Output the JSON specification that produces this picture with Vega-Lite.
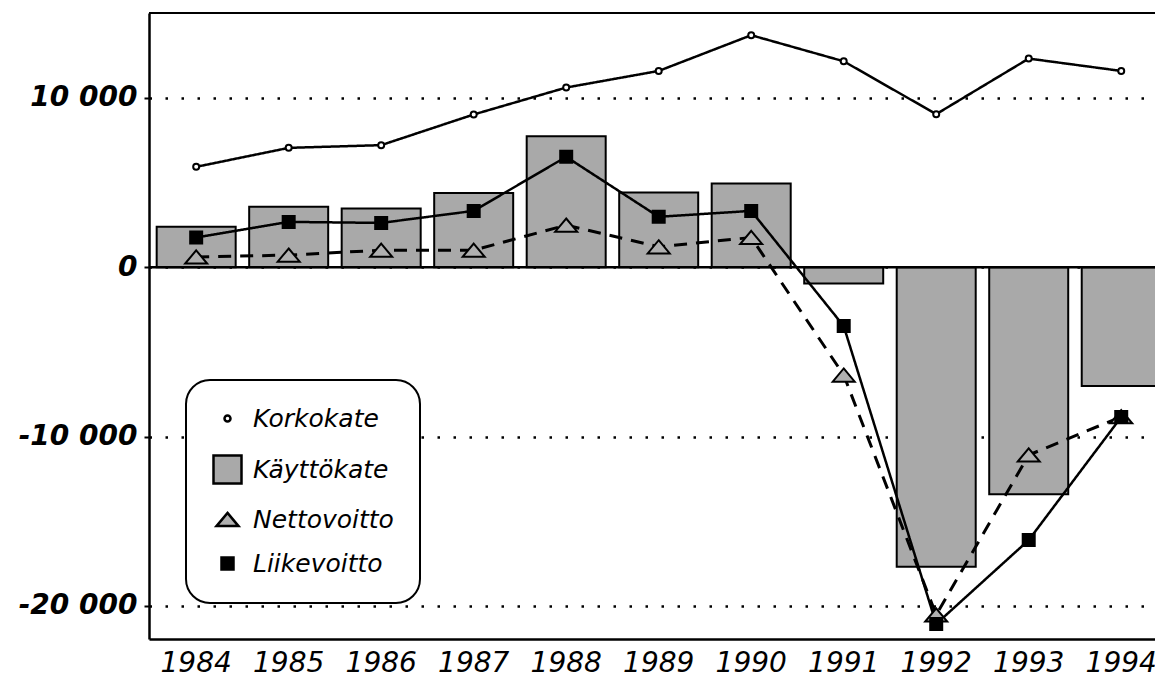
{
  "$schema": "https://vega.github.io/schema/vega-lite/v6.json",
  "width": 1006,
  "height": 626,
  "autosize": "none",
  "padding": {"left": 149, "top": 13, "right": 0, "bottom": 38},
  "background": "white",
  "config": {
    "view": {"stroke": null},
    "font": "DejaVu Sans",
    "legend": {
      "strokeWidth": 2,
      "symbolStrokeWidth": 2.5,
      "symbolStrokeColor": "black",
      "symbolOpacity": 1
    }
  },
  "data": {
    "values": [
      {"year": "1984", "series": "Korkokate", "value": 5920},
      {"year": "1985", "series": "Korkokate", "value": 7040},
      {"year": "1986", "series": "Korkokate", "value": 7200},
      {"year": "1987", "series": "Korkokate", "value": 9010},
      {"year": "1988", "series": "Korkokate", "value": 10600},
      {"year": "1989", "series": "Korkokate", "value": 11580},
      {"year": "1990", "series": "Korkokate", "value": 13690},
      {"year": "1991", "series": "Korkokate", "value": 12150},
      {"year": "1992", "series": "Korkokate", "value": 9030},
      {"year": "1993", "series": "Korkokate", "value": 12310},
      {"year": "1994", "series": "Korkokate", "value": 11580},
      {"year": "1984", "series": "Käyttökate", "value": 2380},
      {"year": "1985", "series": "Käyttökate", "value": 3560},
      {"year": "1986", "series": "Käyttökate", "value": 3460},
      {"year": "1987", "series": "Käyttökate", "value": 4380},
      {"year": "1988", "series": "Käyttökate", "value": 7730},
      {"year": "1989", "series": "Käyttökate", "value": 4400},
      {"year": "1990", "series": "Käyttökate", "value": 4940},
      {"year": "1991", "series": "Käyttökate", "value": -960},
      {"year": "1992", "series": "Käyttökate", "value": -17680},
      {"year": "1993", "series": "Käyttökate", "value": -13410},
      {"year": "1994", "series": "Käyttökate", "value": -7020},
      {"year": "1984", "series": "Nettovoitto", "value": 600},
      {"year": "1985", "series": "Nettovoitto", "value": 710},
      {"year": "1986", "series": "Nettovoitto", "value": 1000},
      {"year": "1987", "series": "Nettovoitto", "value": 1000},
      {"year": "1988", "series": "Nettovoitto", "value": 2480},
      {"year": "1989", "series": "Nettovoitto", "value": 1200},
      {"year": "1990", "series": "Nettovoitto", "value": 1750},
      {"year": "1991", "series": "Nettovoitto", "value": -6370},
      {"year": "1992", "series": "Nettovoitto", "value": -20530},
      {"year": "1993", "series": "Nettovoitto", "value": -11090},
      {"year": "1994", "series": "Nettovoitto", "value": -8830},
      {"year": "1984", "series": "Liikevoitto", "value": 1750},
      {"year": "1985", "series": "Liikevoitto", "value": 2670},
      {"year": "1986", "series": "Liikevoitto", "value": 2610},
      {"year": "1987", "series": "Liikevoitto", "value": 3320},
      {"year": "1988", "series": "Liikevoitto", "value": 6510},
      {"year": "1989", "series": "Liikevoitto", "value": 2970},
      {"year": "1990", "series": "Liikevoitto", "value": 3320},
      {"year": "1991", "series": "Liikevoitto", "value": -3480},
      {"year": "1992", "series": "Liikevoitto", "value": -21060},
      {"year": "1993", "series": "Liikevoitto", "value": -16110},
      {"year": "1994", "series": "Liikevoitto", "value": -8850}
    ]
  },
  "layer": [
    {
      "transform": [{"filter": "datum.series === 'Käyttökate'"}],
      "mark": {"type": "bar", "fill": "#a9a9a9", "stroke": "black", "strokeWidth": 2},
      "encoding": {
        "x": {
          "field": "year",
          "type": "ordinal",
          "scale": {"range": [0, 1019.4], "paddingInner": 0.146, "paddingOuter": 0.083},
          "axis": {
            "title": null,
            "labelAngle": 0,
            "ticks": false,
            "grid": false,
            "domainColor": "black",
            "domainWidth": 2.5,
            "labelFont": "DejaVu Sans",
            "labelFontStyle": "italic",
            "labelFontSize": 28,
            "labelColor": "black",
            "labelPadding": 10
          }
        },
        "y": {
          "field": "value",
          "type": "quantitative",
          "scale": {"domain": [-21950, 15000], "nice": false, "zero": false},
          "axis": {
            "title": null,
            "values": [-20000, -10000, 0, 10000],
            "labelExpr": "replace(replace(format(datum.value, ',d'), ',', ' '), '\u2212', '-')",
            "grid": true,
            "gridColor": "black",
            "gridDash": [2.5, 13.5],
            "gridWidth": 2.5,
            "domainColor": "black",
            "domainWidth": 2.5,
            "tickColor": "black",
            "tickSize": 5,
            "tickWidth": 2,
            "labelFont": "DejaVu Sans",
            "labelFontStyle": "italic",
            "labelFontWeight": "bold",
            "labelFontSize": 28,
            "labelColor": "black",
            "labelPadding": 7
          }
        }
      }
    },
    {
      "data": {"values": [{"ref": "zero"}]},
      "mark": {"type": "rule", "color": "black", "strokeWidth": 2.5},
      "encoding": {"y": {"datum": 0}}
    },
    {
      "data": {"values": [{"ref": "top"}]},
      "mark": {"type": "rule", "color": "black", "strokeWidth": 2},
      "encoding": {"y": {"datum": 15000}}
    },
    {
      "transform": [{"filter": "datum.series !== 'Käyttökate'"}],
      "mark": {"type": "line", "color": "black"},
      "encoding": {
        "x": {"field": "year", "type": "ordinal"},
        "y": {"field": "value", "type": "quantitative"},
        "strokeDash": {
          "field": "series",
          "type": "nominal",
          "scale": {"domain": ["Korkokate", "Nettovoitto", "Liikevoitto"], "range": [[1, 0], [13, 9], [1, 0]]},
          "legend": null
        },
        "strokeWidth": {
          "field": "series",
          "type": "nominal",
          "scale": {"type": "ordinal", "domain": ["Korkokate", "Nettovoitto", "Liikevoitto"], "range": [2.5, 3, 2.5]},
          "legend": null
        }
      }
    },
    {
      "transform": [{"filter": "datum.series !== 'Käyttökate'"}],
      "mark": {"type": "point", "filled": true, "stroke": "black", "strokeWidth": 2, "opacity": 1},
      "encoding": {
        "x": {"field": "year", "type": "ordinal"},
        "y": {"field": "value", "type": "quantitative"},
        "shape": {
          "field": "series",
          "type": "nominal",
          "scale": {
            "domain": ["Korkokate", "Käyttökate", "Nettovoitto", "Liikevoitto"],
            "range": ["circle", "square", "M0,-0.6L1,0.6L-1,0.6Z", "square"]
          },
          "legend": {
            "title": null,
            "orient": "none",
            "legendX": 37,
            "legendY": 367,
            "fillColor": "white",
            "strokeColor": "black",
            "cornerRadius": 24,
            "padding": 26,
            "labelFont": "DejaVu Sans",
            "labelFontStyle": "italic",
            "labelFontSize": 25,
            "labelColor": "black",
            "labelOffset": 10,
            "symbolSize": 900,
            "rowPadding": 18
          }
        },
        "fill": {
          "field": "series",
          "type": "nominal",
          "scale": {
            "domain": ["Korkokate", "Käyttökate", "Nettovoitto", "Liikevoitto"],
            "range": ["white", "#a9a9a9", "#b0b0b0", "black"]
          },
          "legend": {
            "title": null,
            "orient": "none",
            "legendX": 37,
            "legendY": 367,
            "fillColor": "white",
            "strokeColor": "black",
            "cornerRadius": 24,
            "padding": 26,
            "labelFont": "DejaVu Sans",
            "labelFontStyle": "italic",
            "labelFontSize": 25,
            "labelColor": "black",
            "labelOffset": 10,
            "symbolSize": 900,
            "rowPadding": 18
          }
        },
        "stroke": {
          "field": "series",
          "type": "nominal",
          "scale": {
            "domain": ["Korkokate", "Käyttökate", "Nettovoitto", "Liikevoitto"],
            "range": ["black", "black", "black", "black"]
          },
          "legend": {
            "title": null,
            "orient": "none",
            "legendX": 37,
            "legendY": 367,
            "fillColor": "white",
            "strokeColor": "black",
            "cornerRadius": 24,
            "padding": 26,
            "labelFont": "DejaVu Sans",
            "labelFontStyle": "italic",
            "labelFontSize": 25,
            "labelColor": "black",
            "labelOffset": 10,
            "symbolSize": 900,
            "rowPadding": 18
          }
        },
        "size": {
          "field": "series",
          "type": "nominal",
          "scale": {
            "type": "ordinal",
            "domain": ["Korkokate", "Käyttökate", "Nettovoitto", "Liikevoitto"],
            "range": [36, 784, 484, 144]
          },
          "legend": {
            "title": null,
            "orient": "none",
            "legendX": 37,
            "legendY": 367,
            "fillColor": "white",
            "strokeColor": "black",
            "cornerRadius": 24,
            "padding": 26,
            "labelFont": "DejaVu Sans",
            "labelFontStyle": "italic",
            "labelFontSize": 25,
            "labelColor": "black",
            "labelOffset": 10,
            "symbolSize": 900,
            "rowPadding": 18
          }
        }
      }
    }
  ]
}
